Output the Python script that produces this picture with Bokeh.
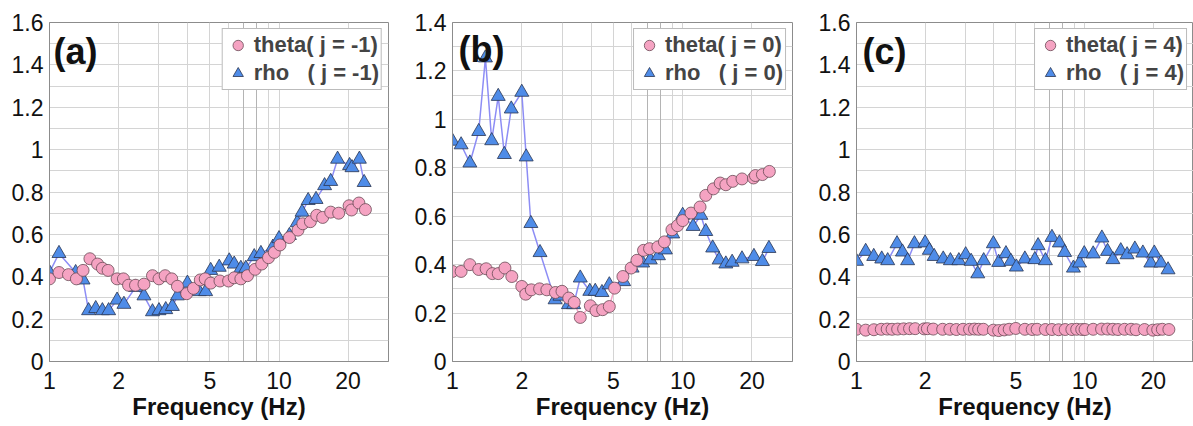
from bokeh.plotting import figure
from bokeh.layouts import row
from bokeh.models import Range1d, FixedTicker, NumeralTickFormatter, Grid, Label, Legend, LegendItem
from bokeh.embed import file_html
from bokeh.resources import INLINE

# ---------------- data ----------------
a_theta_f = [1.0, 1.10, 1.21, 1.31, 1.40, 1.50, 1.62, 1.70, 1.80, 1.97, 2.10, 2.21, 2.37, 2.58, 2.81, 3.0,
             3.19, 3.41, 3.61, 3.96, 4.24, 4.54, 4.77, 5.04, 5.53, 6.03, 6.38, 6.82, 7.29, 7.87, 8.41, 9.0,
             9.54, 10.1, 11.1, 12.1, 12.7, 13.7, 14.6, 15.5, 16.8, 18.2, 20.2, 20.7, 22.3, 23.8]
a_theta_v = [0.39, 0.42, 0.41, 0.39, 0.43, 0.485, 0.46, 0.44, 0.43, 0.39, 0.39, 0.36, 0.36, 0.365, 0.405, 0.39,
             0.405, 0.39, 0.355, 0.32, 0.345, 0.385, 0.39, 0.37, 0.38, 0.38, 0.395, 0.39, 0.405, 0.435, 0.46, 0.49,
             0.515, 0.55, 0.585, 0.62, 0.65, 0.66, 0.69, 0.68, 0.705, 0.70, 0.735, 0.715, 0.748, 0.717]
a_rho_f = [1.0, 1.10, 1.30, 1.40, 1.48, 1.59, 1.70, 1.81, 1.97, 2.11, 2.37, 2.58, 2.81, 3.0, 3.21, 3.43,
           3.61, 3.99, 4.49, 4.79, 5.04, 5.49, 6.07, 6.38, 6.82, 7.17, 7.8, 8.34, 9.4, 10.0, 11.1, 12.0,
           12.6, 13.4, 14.5, 15.8, 16.8, 18.0, 20.3, 20.8, 22.4, 23.5]
a_rho_v = [0.42, 0.51, 0.42, 0.385, 0.24, 0.25, 0.24, 0.24, 0.29, 0.27, 0.35, 0.31, 0.235, 0.24, 0.245, 0.26,
           0.31, 0.37, 0.33, 0.33, 0.43, 0.445, 0.475, 0.46, 0.44, 0.44, 0.495, 0.51, 0.54, 0.58, 0.595, 0.655,
           0.705, 0.76, 0.765, 0.83, 0.85, 0.955, 0.925, 0.915, 0.955, 0.845]

b_theta_f = [1.0, 1.09, 1.19, 1.30, 1.40, 1.49, 1.58, 1.69, 1.81, 2.0, 2.08, 2.2, 2.39, 2.57, 2.8, 2.99,
             3.2, 3.38, 3.59, 3.97, 4.2, 4.49, 4.8, 5.06, 5.5, 5.97, 6.33, 6.76, 7.18, 7.8, 8.33, 8.98,
             9.5, 10.0, 10.87, 11.9, 12.6, 13.6, 14.55, 15.4, 16.5, 18.1, 20.3, 20.7, 22.2, 23.8]
b_theta_v = [0.372, 0.372, 0.40, 0.38, 0.383, 0.363, 0.363, 0.386, 0.351, 0.31, 0.278, 0.296, 0.30, 0.296, 0.285, 0.29,
             0.262, 0.244, 0.182, 0.23, 0.21, 0.214, 0.227, 0.303, 0.351, 0.386, 0.418, 0.459, 0.466, 0.473, 0.494, 0.544,
             0.561, 0.582, 0.613, 0.638, 0.686, 0.713, 0.737, 0.73, 0.744, 0.754, 0.758, 0.768, 0.772, 0.785]
b_rho_f = [1.0, 1.09, 1.19, 1.30, 1.39, 1.48, 1.58, 1.68, 1.80, 2.0, 2.09, 2.19, 2.40, 2.79, 2.93, 3.19,
           3.36, 3.59, 3.95, 4.17, 4.46, 4.8, 5.54, 6.03, 6.7, 7.23, 7.85, 8.41, 9.05, 10.0, 11.1, 12.0,
           12.6, 13.5, 14.4, 15.4, 16.4, 18.1, 20.4, 22.2, 23.7]
b_rho_v = [0.91, 0.895, 0.82, 0.95, 1.254, 0.912, 1.095, 0.855, 1.043, 1.112, 0.845, 0.57, 0.45, 0.255, 0.27, 0.235,
           0.235, 0.345, 0.29, 0.29, 0.285, 0.317, 0.33, 0.386, 0.407, 0.42, 0.437, 0.461, 0.527, 0.604, 0.558, 0.604,
           0.537, 0.469, 0.42, 0.403, 0.41, 0.424, 0.434, 0.413, 0.467]

c_theta_f = [1.0, 1.097, 1.192, 1.284, 1.363, 1.432, 1.515, 1.609, 1.708, 1.808, 1.978, 2.045, 2.17, 2.385, 2.565, 2.74,
             2.93, 3.13, 3.29, 3.43, 3.6, 3.98, 4.2, 4.44, 4.67, 4.99, 5.47, 5.89, 6.19, 6.73, 7.19, 7.69,
             8.22, 8.79, 9.23, 9.71, 10.04, 10.9, 11.86, 12.6, 13.3, 14.0, 14.96, 15.98, 16.8, 18.3, 19.9, 20.9,
             21.9, 23.4]
c_theta_v = [0.152, 0.148, 0.150, 0.152, 0.153, 0.152, 0.153, 0.154, 0.155, 0.155, 0.154, 0.155, 0.153, 0.152, 0.152, 0.151,
             0.152, 0.152, 0.153, 0.152, 0.152, 0.148, 0.146, 0.149, 0.152, 0.156, 0.152, 0.151, 0.152, 0.151, 0.151, 0.150,
             0.151, 0.151, 0.152, 0.151, 0.151, 0.152, 0.153, 0.153, 0.152, 0.151, 0.152, 0.152, 0.150, 0.151, 0.148, 0.150,
             0.152, 0.151]
c_rho_f = [1.0, 1.097, 1.19, 1.29, 1.37, 1.505, 1.59, 1.675, 1.795, 1.998, 2.085, 2.19, 2.40, 2.58, 2.81, 3.01,
           3.18, 3.4, 3.61, 3.98, 4.2, 4.52, 4.75, 5.02, 5.47, 6.05, 6.25, 6.73, 7.19, 7.75, 8.17, 8.93,
           9.5, 9.96, 10.9, 11.9, 12.6, 13.3, 14.4, 15.35, 16.6, 18.0, 19.5, 20.2, 21.6, 23.2]
c_rho_v = [0.473, 0.52, 0.496, 0.484, 0.476, 0.556, 0.517, 0.476, 0.556, 0.56, 0.525, 0.496, 0.484, 0.476, 0.476, 0.504,
           0.473, 0.414, 0.476, 0.556, 0.468, 0.509, 0.473, 0.446, 0.484, 0.481, 0.547, 0.476, 0.586, 0.56, 0.515, 0.441,
           0.465, 0.509, 0.508, 0.583, 0.52, 0.481, 0.523, 0.504, 0.531, 0.512, 0.465, 0.512, 0.465, 0.433]

x_ticks = [1, 2, 5, 10, 20]
x_grid = [1, 2, 3, 4, 5, 6, 9, 10, 20, 30]
x_grid_dark = [7, 8]
panel_labels = ["(a)", "(b)", "(c)"]
j_values = ["-1", "0", "4"]
y_max = [1.6, 1.4, 1.6]

FONT = "Liberation Sans"
PINK = "#f5a3c2"
PINK_LINE = "#f2a6c6"
BLUE = "#4f8ce8"
BLUE_LINE = "#8d8df5"


def make_panel(width, left, right, ymax, label, lab_x, lab_y, tf, tv, rf, rv, j):
    p = figure(width=width, height=426, x_axis_type="log",
               x_range=Range1d(1, 30), y_range=Range1d(0, ymax),
               output_backend="svg", toolbar_location=None,
               min_border_left=left, min_border_right=right,
               min_border_top=22, min_border_bottom=65)
    p.background_fill_color = "white"
    p.outline_line_color = "#8c8c8c"
    p.outline_line_width = 1

    yt = [round(0.1 * i, 1) for i in range(int(round(ymax * 10)) + 1)]
    p.xgrid.ticker = FixedTicker(ticks=x_grid)
    p.ygrid.ticker = FixedTicker(ticks=yt)
    p.xgrid.grid_line_color = "#d4d4d4"
    p.ygrid.grid_line_color = "#d4d4d4"
    p.add_layout(Grid(dimension=0, ticker=FixedTicker(ticks=x_grid_dark),
                      grid_line_color="#b4b4b4"))

    p.xaxis.ticker = FixedTicker(ticks=x_ticks)
    p.xaxis.formatter = NumeralTickFormatter(format="0")
    p.yaxis.ticker = FixedTicker(ticks=[round(0.2 * i, 1) for i in range(int(round(ymax * 5)) + 1)])
    p.yaxis.formatter = NumeralTickFormatter(format="0.[0]")
    for ax in (p.xaxis, p.yaxis):
        ax.major_tick_out = 0
        ax.major_tick_in = 0
        ax.minor_tick_line_color = None
        ax.axis_line_color = "#8c8c8c"
        ax.major_label_text_font = FONT
        ax.major_label_text_font_size = "23px"
        ax.major_label_text_color = "#111111"
    p.yaxis.major_label_standoff = 6
    p.xaxis.major_label_standoff = 10
    p.xaxis.axis_label = "Frequency (Hz)"
    p.xaxis.axis_label_text_font = FONT
    p.xaxis.axis_label_text_font_size = "24px"
    p.xaxis.axis_label_text_font_style = "bold"
    p.xaxis.axis_label_text_color = "#111111"
    p.xaxis.axis_label_standoff = 1

    p.line(rf, rv, line_color=BLUE_LINE, line_width=1.5)
    p.line(tf, tv, line_color=PINK_LINE, line_width=1.5)
    r_rho = p.scatter(rf, rv, marker="triangle", size=14, fill_color=BLUE,
                      line_color="#2a3550", line_width=0.8)
    r_theta = p.scatter(tf, tv, marker="circle", size=12, fill_color=PINK,
                        line_color="#6a4a55", line_width=0.8)

    legend = Legend(items=[
        LegendItem(label="theta( j = %s)" % j, renderers=[r_theta]),
        LegendItem(label="rho   ( j = %s)" % j, renderers=[r_rho]),
    ], location="top_right")
    legend.label_text_font = FONT
    legend.label_text_font_style = "bold"
    legend.label_text_font_size = "22px"
    legend.glyph_width = 26
    legend.glyph_height = 28
    legend.label_height = 28
    legend.padding = 2
    legend.spacing = 0
    legend.label_standoff = 3
    legend.margin = 6
    legend.border_line_color = "#777777"
    legend.border_line_width = 1
    legend.background_fill_alpha = 1
    p.add_layout(legend)

    p.add_layout(Label(x=lab_x, y=lab_y, text=label, text_font=FONT, text_font_size="36px",
                       text_font_style="bold", text_baseline="middle", text_color="#111111"))
    return p


pa = make_panel(395, 49, 7, y_max[0], panel_labels[0], 1.04, 1.465, a_theta_f, a_theta_v, a_rho_f, a_rho_v, j_values[0])
pb = make_panel(400, 57, 3, y_max[1], panel_labels[1], 1.062, 1.288, b_theta_f, b_theta_v, b_rho_f, b_rho_v, j_values[1])
pc = make_panel(398, 61, 0, y_max[2], panel_labels[2], 1.062, 1.465, c_theta_f, c_theta_v, c_rho_f, c_rho_v, j_values[2])

layout = row(pa, pb, pc)
open("out.html", "w").write(file_html(layout, INLINE))
